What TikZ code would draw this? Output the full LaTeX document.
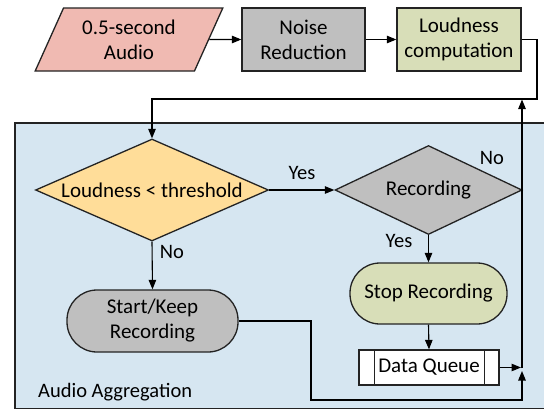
\documentclass[tikz,border=0pt]{standalone}
\usepackage{fontspec}
\setmainfont{Carlito}
\usetikzlibrary{shapes.geometric,arrows.meta}
\definecolor{pinkf}{RGB}{240,186,178}
\definecolor{grayf}{RGB}{191,191,191}
\definecolor{olivef}{RGB}{216,222,184}
\definecolor{yellowf}{RGB}{255,221,153}
\definecolor{bluebg}{RGB}{214,230,241}
\definecolor{edge}{RGB}{35,35,35}
\tikzset{
  box/.style={draw=edge, line width=1.3pt, align=center, inner sep=0pt},
  rectbox/.style={box, rectangle},
  pill/.style={box, rectangle, rounded corners=30pt},
  dia/.style={box, diamond, aspect=2.3},
  conn/.style={draw=black, line width=1.1pt, -{Triangle[length=9.5pt,width=7.5pt]}},
  line/.style={draw=black, line width=1.1pt},
  lbl/.style={inner sep=0pt, font=\fontsize{20.5}{24}\selectfont},
}
\begin{document}
\begin{tikzpicture}[x=1pt,y=-1pt,font=\fontsize{21}{25}\selectfont]
\clip (0,0) rectangle (544,410);
\fill[white] (0,0) rectangle (544,410);
% background container
\draw[fill=bluebg, draw=edge, line width=1.6pt] (15,123) rectangle (570,408.5);
\node[lbl, anchor=west] (agg) at (38,392) {Audio Aggregation};

% top row
\node[box, trapezium, trapezium left angle=63, trapezium right angle=117,
      trapezium stretches=true, minimum width=188pt, minimum height=63pt,
      fill=pinkf] (audio) at (129,39.5) {0.5-second\\Audio};
\node[rectbox, fill=grayf, minimum width=123pt, minimum height=63pt] (noise) at (303.5,39.5) {Noise\\Reduction};
\node[rectbox, fill=olivef, minimum width=124pt, minimum height=63pt] (loud) at (459,39.5) {Loudness\\computation};

% decisions
\node[dia, fill=yellowf, minimum width=233pt, minimum height=102pt] (d1) at (152,190) {Loudness < threshold};
\node[dia, fill=grayf, aspect=2.1, minimum width=187pt, minimum height=89pt] (d2) at (428.5,190) {Recording};

% actions
\node[pill, fill=grayf, minimum width=171pt, minimum height=62pt] (start) at (152.5,321) {Start/Keep\\Recording};
\node[pill, fill=olivef, minimum width=157pt, minimum height=61pt] (stop) at (428.5,293.5) {Stop Recording};
\node[rectbox, fill=white, minimum width=140pt, minimum height=35pt] (dq) at (429,367.5) {Data Queue};
\draw[edge, line width=1.1pt] ([xshift=16pt]dq.north west) -- ([xshift=16pt]dq.south west);
\draw[edge, line width=1.1pt] ([xshift=-15pt]dq.north east) -- ([xshift=-15pt]dq.south east);

% helper coordinates
\coordinate (c1) at (537,99);
\coordinate (top) at (522,99.5);
\coordinate (jv) at (522,368);
\coordinate (jdq) at (521,367.5);
\coordinate (jup) at (522,371);
\coordinate (c3) at (311,400);

% connectors
\draw[conn] (audio.east) -- (noise.west);
\draw[conn] (noise.east) -- (loud.west);
\draw[conn] (loud.east) -| (c1) -| (d1.north);
\draw[conn] (d1.east) -- (d2.west);
\draw[conn] (d2.south) -- (stop.north);
\draw[conn] (d1.south) -- (start.north);
\draw[conn] (stop.south) -- (dq.north);
\draw[conn] (dq.east) -- (jdq);
\draw[conn] (start.east) -| (c3) -| (jup);
\draw[conn] (jv) -- (top);

% labels
\node[lbl] (yes1) at (302,173) {Yes};
\node[lbl] (no1) at (172,252) {No};
\node[lbl] (no2) at (492,158) {No};
\node[lbl] (yes2) at (399,241) {Yes};
\end{tikzpicture}
\end{document}
